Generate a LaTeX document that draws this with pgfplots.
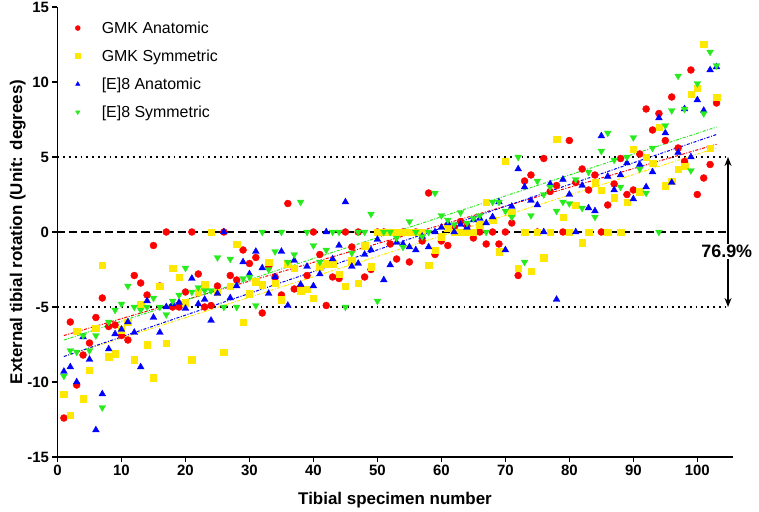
\documentclass[border=0pt]{standalone}
\usepackage{fontspec}
\setmainfont{Liberation Sans}
\usepackage{pgfplots}
\pgfplotsset{compat=1.18}
\usetikzlibrary{arrows.meta}
\definecolor{cred}{RGB}{255,0,0}
\definecolor{cyel}{RGB}{255,232,0}
\definecolor{cblu}{RGB}{0,0,255}
\definecolor{cgrn}{RGB}{40,235,30}
\pgfplotsset{myleg/.style={legend image code/.code={\path[draw=none,fill=none] (0bp,-3bp) rectangle (31bp,3bp); \draw[mark repeat=2,mark phase=2,##1,mark size=2.5bp] plot coordinates {(0bp,0bp)(9bp,0bp)(31bp,0bp)};}}}
\begin{document}
\begin{tikzpicture}
\useasboundingbox (-57.5bp,-55bp) rectangle (701.5bp,457bp);
\begin{axis}[
  at={(0,0)}, anchor=south west,
  scale only axis, width=675bp, height=450bp,
  xmin=0, xmax=105.5, ymin=-15, ymax=15,
  axis x line*=bottom, axis y line*=left,
  xtick={0,10,...,100}, ytick={-15,-10,...,15},
  minor tick num=0,
  tick align=outside, major tick length=5bp,
  axis line style={line width=1.6bp, black},
  tick style={line width=1.6bp, black},
  ticklabel style={font=\bfseries\fontsize{15}{15}\selectfont},
  /pgf/number format/assume math mode=true,
  xlabel={Tibial specimen number},
  ylabel={External tibial rotation (Unit: degrees)},
  xlabel style={font=\bfseries\fontsize{17}{17}\selectfont, at={(axis description cs:0.5,0)}, yshift=-43bp, anchor=center},
  ylabel style={font=\bfseries\fontsize{17}{17}\selectfont, at={(axis description cs:-0.059,0.5)}, anchor=center},
  clip=false,
  legend style={draw=none, fill=none, at={(0.012,0.977)}, anchor=north west,
    font=\fontsize{16}{16}\selectfont, row sep=11bp},
  legend cell align=left,
]
% reference lines
\addplot[forget plot, black, line width=1.8bp, dash pattern=on 1.8bp off 4bp] coordinates {(0,5) (104.8,5)};
\addplot[forget plot, black, line width=1.8bp, dash pattern=on 1.8bp off 4bp] coordinates {(0,-5) (104.8,-5)};
\addplot[forget plot, black, line width=2bp, dash pattern=on 8bp off 4bp] coordinates {(0,0) (104.8,0)};

\addplot[only marks, myleg, mark=*, mark size=3.5bp, color=cred, mark options={draw=cred, fill=cred}] coordinates {
(1,-12.4)(2,-6.0)(3,-10.2)(4,-8.2)(5,-7.4)(6,-5.7)(7,-4.4)(8,-6.3)(9,-6.2)(10,-6.9)
(11,-7.2)(12,-2.9)(13,-3.4)(14,-4.2)(15,-0.9)(16,-3.6)(17,0)(18,-5.0)(19,-5.0)(20,-4.0)
(21,0)(22,-2.8)(23,-5.0)(24,-4.9)(25,-3.6)(26,0)(27,-2.9)(28,-3.2)(29,-1.2)(30,-2.1)
(31,-1.7)(32,-5.4)(33,-2.3)(34,-3.0)(35,-4.2)(36,1.9)(37,-3.8)(38,-3.7)(39,-2.9)(40,0)
(41,-1.5)(42,-4.9)(43,-3.0)(44,-3.1)(45,0)(46,-1.0)(47,0)(48,-3.0)(49,-2.5)(50,0)
(51,0)(52,-0.8)(53,-1.8)(54,0)(55,-2.0)(56,0)(57,-0.6)(58,2.6)(59,-1.5)(60,-0.6)
(61,-0.9)(62,0.3)(63,0.7)(64,0.4)(65,-0.4)(66,0)(67,-0.8)(68,0)(69,-0.8)(70,0)
(71,0.6)(72,-2.9)(73,3.4)(74,3.8)(75,0)(76,4.9)(77,2.7)(78,3.1)(79,0)(80,6.1)
(81,3.3)(82,4.2)(83,2.8)(84,3.8)(85,0)(86,1.8)(87,3.2)(88,4.9)(89,2.5)(90,2.8)
(91,5.2)(92,8.2)(93,6.8)(94,7.9)(95,6.1)(96,9.0)(97,5.6)(98,4.7)(99,10.8)(100,2.5)
(101,3.6)(102,4.5)(103,8.6)};
\addlegendentry{GMK Anatomic}

\addplot[only marks, myleg, mark=square*, mark size=3.2bp, color=cyel, mark options={draw=cyel, fill=cyel}] coordinates {
(1,-10.8)(2,-12.2)(3,-6.6)(4,-11.1)(5,-9.2)(6,-6.4)(7,-2.2)(8,-8.3)(9,-8.1)(10,-6.5)
(11,-6.0)(12,-8.5)(13,-4.8)(14,-7.5)(15,-9.7)(16,-3.6)(17,-7.4)(18,-2.4)(19,-3.0)(20,-4.7)
(21,-8.5)(22,-4.0)(23,-3.5)(24,0)(25,-4.0)(26,-8.0)(27,-3.6)(28,-0.8)(29,-6.0)(30,-4.1)
(31,-3.3)(32,-3.5)(33,-2.0)(34,-3.4)(35,-4.5)(36,-2.1)(37,-2.4)(38,-3.9)(39,-3.8)(40,-4.4)
(41,-2.3)(42,-2.1)(43,-2.1)(44,-2.8)(45,-3.6)(46,-1.9)(47,-3.4)(48,-0.9)(49,-2.3)(50,0)
(51,0)(52,0)(53,0)(54,0)(55,0)(56,0)(57,0)(58,-2.2)(59,-1.2)(60,-0.3)
(61,0.3)(62,0)(63,0)(64,0)(65,0)(66,0.5)(67,2.0)(68,0.8)(69,-1.3)(70,4.7)
(71,1.3)(72,-2.4)(73,0)(74,-2.6)(75,0)(76,-1.7)(77,0)(78,6.2)(79,1.0)(80,0)
(81,1.8)(82,-0.7)(83,0)(84,3.3)(85,2.8)(86,0)(87,2.3)(88,0)(89,2.0)(90,5.5)
(91,2.7)(92,5.0)(93,4.6)(94,7.0)(95,3.1)(96,3.4)(97,4.2)(98,4.4)(99,9.2)(100,9.6)
(101,12.5)(102,5.6)(103,9.0)};
\addlegendentry{GMK Symmetric}

\addplot[only marks, myleg, mark=triangle*, mark size=3.9bp, color=cblu, mark options={draw=cblu, fill=cblu}] coordinates {
(1,-9.3)(2,-9.0)(3,-10.0)(4,-7.0)(5,-8.5)(6,-13.2)(7,-10.8)(8,-7.8)(9,-6.8)(10,-6.5)
(11,-6.0)(12,-6.7)(13,-9.0)(14,-4.6)(15,-5.7)(16,-6.7)(17,-5.0)(18,-4.8)(19,-4.7)(20,-5.1)
(21,-3.1)(22,-4.8)(23,-4.5)(24,-5.9)(25,-4.1)(26,0)(27,-4.4)(28,-3.6)(29,-2.0)(30,-2.8)
(31,-1.3)(32,-2.4)(33,-4.1)(34,-3.0)(35,-1.3)(36,-4.9)(37,-1.9)(38,-3.5)(39,-2.3)(40,-3.6)
(41,-2.8)(42,0)(43,-1.8)(44,-0.9)(45,2.0)(46,-2.3)(47,-2.1)(48,-1.5)(49,-1.2)(50,-0.5)
(51,-3.2)(52,-2.2)(53,-0.7)(54,-0.8)(55,-1.0)(56,-1.2)(57,-0.3)(58,-1.0)(59,0)(60,0.3)
(61,0.6)(62,0)(63,0.5)(64,0.3)(65,0.8)(66,0.9)(67,0.6)(68,1.0)(69,2.0)(70,-1.2)
(71,1.7)(72,4.2)(73,3.0)(74,2.1)(75,1.8)(76,0)(77,3.2)(78,-4.5)(79,3.5)(80,2.5)
(81,0)(82,3.1)(83,1.6)(84,1.4)(85,6.4)(86,3.7)(87,2.8)(88,3.8)(89,4.6)(90,2.2)
(91,4.5)(92,3.0)(93,4.0)(94,7.6)(95,6.6)(96,3.3)(97,5.3)(98,8.2)(99,5.0)(100,8.8)
(101,8.1)(102,10.8)(103,11.0)};
\addlegendentry{[E]8 Anatomic}

\addplot[only marks, myleg, mark=triangle*, mark size=3.9bp, color=cgrn, mark options={draw=cgrn, fill=cgrn, rotate=180}] coordinates {
(1,-9.6)(2,-7.9)(3,-8.0)(4,-6.9)(5,-7.9)(6,-6.9)(7,-11.7)(8,-6.0)(9,-5.2)(10,-4.8)
(11,-3.6)(12,-5.0)(13,-5.2)(14,-5.0)(15,-4.4)(16,-5.0)(17,-5.5)(18,-4.6)(19,-4.2)(20,-2.4)
(21,-4.0)(22,-3.7)(23,-3.9)(24,-3.9)(25,-1.7)(26,-5.0)(27,-1.8)(28,-5.0)(29,-3.1)(30,-3.0)
(31,-4.9)(32,0)(33,-2.5)(34,-1.3)(35,0)(36,-2.0)(37,-1.5)(38,2.0)(39,0)(40,-0.9)
(41,-2.0)(42,-1.2)(43,0)(44,0)(45,-5.0)(46,-1.4)(47,0)(48,0)(49,1.2)(50,-4.6)
(51,0)(52,0)(53,-0.4)(54,-1.0)(55,0.7)(56,0)(57,-0.3)(58,0)(59,2.6)(60,1.1)
(61,0.8)(62,0.5)(63,1.3)(64,0.6)(65,0.9)(66,1.1)(67,0)(68,2.0)(69,2.0)(70,1.4)
(71,1.0)(72,5.0)(73,-2.0)(74,1.1)(75,3.4)(76,2.5)(77,3.0)(78,1.4)(79,2.0)(80,1.9)
(81,3.5)(82,1.6)(83,4.0)(84,1.0)(85,5.4)(86,6.6)(87,4.8)(88,3.0)(89,5.0)(90,6.3)
(91,4.2)(92,2.6)(93,5.6)(94,0)(95,7.1)(96,8.1)(97,10.4)(98,8.2)(99,4.1)(100,9.9)
(101,7.9)(102,12.0)(103,11.1)};
\addlegendentry{[E]8 Symmetric}

% regression lines
\addplot[forget plot, cred, line width=1bp, dash pattern=on 3bp off 1.5bp on 1bp off 1.5bp] coordinates {(1,-6.9) (103,5.85)};
\addplot[forget plot, cyel, line width=1bp, dash pattern=on 3bp off 1.5bp on 1bp off 1.5bp] coordinates {(1,-8.3) (103,5.6)};
\addplot[forget plot, cblu, line width=1bp, dash pattern=on 3bp off 1.5bp on 1bp off 1.5bp] coordinates {(1,-8.3) (103,6.5)};
\addplot[forget plot, cgrn, line width=1bp, dash pattern=on 3bp off 1.5bp on 1bp off 1.5bp] coordinates {(1,-7.2) (103,7.0)};

% arrow and percentage
\draw[{Stealth[length=9bp,width=7bp]}-{Stealth[length=9bp,width=7bp]}, line width=1.4bp] (axis cs:104.8,5) -- (axis cs:104.8,-5);
\node[fill=white, inner sep=1.5bp, font=\bfseries\fontsize{18}{18}\selectfont] at (axis cs:104.6,-1.3) {76.9\%};
\end{axis}
\end{tikzpicture}
\end{document}
